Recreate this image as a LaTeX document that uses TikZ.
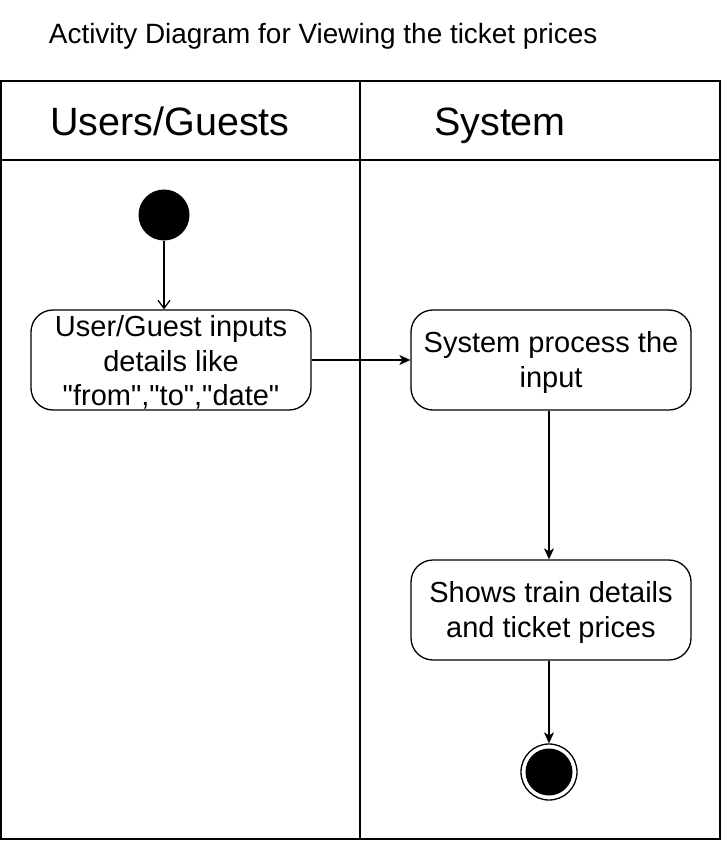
\documentclass[tikz,border=0pt]{standalone}
\usepackage{fontspec}
\setmainfont{Liberation Sans}
\usetikzlibrary{arrows.meta}
\begin{document}
\begin{tikzpicture}[x=1pt,y=-1pt,line width=1.3pt,
  act/.style={draw,rounded corners=22pt,minimum width=280pt,minimum height=100pt,inner sep=0pt},
  acttext/.style={align=center,inner sep=0pt,yshift=-2.5pt,font=\fontsize{29}{34.5}\selectfont},
  lane/.style={anchor=base,font=\fontsize{39.5}{44}\selectfont},
  flow/.style={-{Stealth[length=11pt,width=10pt,inset=3pt]}},
  openflow/.style={-{Straight Barb[length=8pt,width=12pt]}}]
\useasboundingbox (0,0) rectangle (722,842);
\node[anchor=west,font=\fontsize{27.9}{32}\selectfont] (title) at (45,36) {Activity Diagram for Viewing the ticket prices};
\draw (1,81) rectangle (720,839);
\draw (1,160) -- (720,160);
\draw (360,81) -- (360,839);
\node[lane] (l1) at (170,136) {Users/Guests};
\node[lane] (l2) at (500,136) {System};
\node[circle,fill=black,minimum size=51pt,inner sep=0pt] (start) at (164,215) {};
\node[act,label={[acttext]center:User/Guest inputs\\details like\\\textquotedbl from\textquotedbl,\textquotedbl to\textquotedbl,\textquotedbl date\textquotedbl}] (a1) at (171,360) {};
\node[act,label={[acttext]center:System process the\\input}] (a2) at (551,360) {};
\node[act,label={[acttext]center:Shows train details\\and ticket prices}] (a3) at (551,610) {};
\node[circle,draw,minimum size=56pt,inner sep=0pt] (end) at (549,772) {};
\node[circle,fill=black,minimum size=47pt,inner sep=0pt] (endin) at (549,772) {};
\draw[openflow] (start) -- (start|-a1.north);
\draw[flow] (a1) -- (a2);
\draw[flow] (a2.south-|end) -- (a3.north-|end);
\draw[flow] (a3.south-|end) -- (end);
\end{tikzpicture}
\end{document}
